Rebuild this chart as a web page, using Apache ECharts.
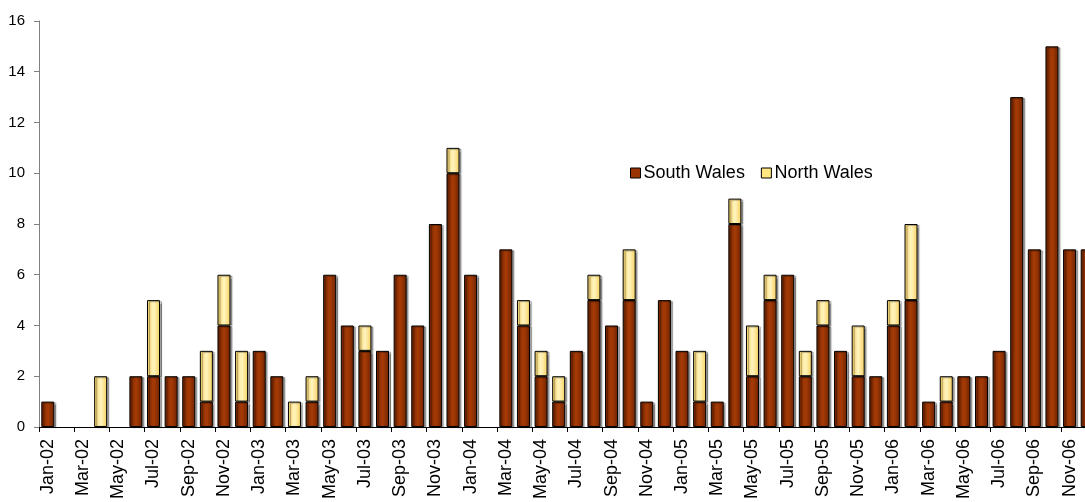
<!DOCTYPE html>
<html>
<head>
<meta charset="utf-8">
<script src="https://cdn.jsdelivr.net/npm/echarts@6/dist/echarts.min.js"></script>
<style>
  html, body { margin: 0; padding: 0; background: #fff; overflow: hidden; }
  /* the plot runs slightly past the right edge of the window, so the last month is cut */
  #chart { width: 1096px; height: 502px; }
</style>
</head>
<body>
<div id="chart"></div>
<script>
// Monthly counts, Jan 2002 – Dec 2006
const months = [
  'Jan-02','Feb-02','Mar-02','Apr-02','May-02','Jun-02','Jul-02','Aug-02','Sep-02','Oct-02','Nov-02','Dec-02',
  'Jan-03','Feb-03','Mar-03','Apr-03','May-03','Jun-03','Jul-03','Aug-03','Sep-03','Oct-03','Nov-03','Dec-03',
  'Jan-04','Feb-04','Mar-04','Apr-04','May-04','Jun-04','Jul-04','Aug-04','Sep-04','Oct-04','Nov-04','Dec-04',
  'Jan-05','Feb-05','Mar-05','Apr-05','May-05','Jun-05','Jul-05','Aug-05','Sep-05','Oct-05','Nov-05','Dec-05',
  'Jan-06','Feb-06','Mar-06','Apr-06','May-06','Jun-06','Jul-06','Aug-06','Sep-06','Oct-06','Nov-06','Dec-06'
];

const southWales = [
  1, 0, 0, 0, 0, 2, 2, 2, 2, 1, 4, 1,
  3, 2, 0, 1, 6, 4, 3, 3, 6, 4, 8, 10,
  6, 0, 7, 4, 2, 1, 3, 5, 4, 5, 1, 5,
  3, 1, 1, 8, 2, 5, 6, 2, 4, 3, 2, 2,
  4, 5, 1, 1, 2, 2, 3, 13, 7, 15, 7, 7
];

const northWales = [
  0, 0, 0, 2, 0, 0, 3, 0, 0, 2, 2, 2,
  0, 0, 1, 1, 0, 0, 1, 0, 0, 0, 0, 1,
  0, 0, 0, 1, 1, 1, 0, 1, 0, 2, 0, 0,
  0, 2, 0, 1, 2, 1, 0, 1, 1, 0, 2, 0,
  1, 3, 0, 1, 0, 0, 0, 0, 0, 0, 0, 0
];

const yTicks = { min: 0, max: 16, step: 2 };

const FONT = '"Liberation Sans", Arial, sans-serif';

function barFill(edge, mid) {
  return new echarts.graphic.LinearGradient(0, 0, 1, 0, [
    { offset: 0, color: edge },
    { offset: 0.45, color: mid },
    { offset: 0.55, color: mid },
    { offset: 1, color: edge }
  ]);
}

// empty months leave no segment at all
const asBars = arr => arr.map(v => (v === 0 ? null : v));

const barStyle = (edge, mid) => ({
  color: barFill(edge, mid),
  borderColor: '#000',
  borderWidth: 1,
  shadowColor: 'rgba(0,0,0,0.35)',
  shadowBlur: 1,
  shadowOffsetX: 2,
  shadowOffsetY: 1
});

const chart = echarts.init(document.getElementById('chart'), null, { renderer: 'canvas' });

chart.setOption({
  animation: false,
  backgroundColor: '#fff',
  textStyle: { fontFamily: FONT },
  grid: { left: 39, right: 0, top: 21, bottom: 74, containLabel: false },
  legend: {
    left: 625,
    top: 159,
    itemWidth: 10,
    itemHeight: 10,
    itemGap: 16,
    icon: 'rect',
    textStyle: { fontFamily: FONT, fontSize: 18, color: '#000', padding: [0, 0, 0, -2] },
    data: [
      { name: 'South Wales', itemStyle: { color: '#993300', borderColor: '#000', borderWidth: 1, shadowBlur: 0, shadowOffsetX: 0, shadowOffsetY: 0 } },
      { name: 'North Wales', itemStyle: { color: '#FFE680', borderColor: '#000', borderWidth: 1, shadowBlur: 0, shadowOffsetX: 0, shadowOffsetY: 0 } }
    ]
  },
  xAxis: {
    type: 'category',
    data: months,
    boundaryGap: true,
    axisLine: { show: true, lineStyle: { color: '#000', width: 1 } },
    axisTick: { show: true, interval: 1, length: 5, inside: false, lineStyle: { color: '#000' } },
    axisLabel: {
      interval: 1,
      rotate: 90,
      margin: 12,
      fontFamily: FONT,
      fontSize: 18,
      color: '#000'
    },
    splitLine: { show: false }
  },
  yAxis: {
    type: 'value',
    min: yTicks.min,
    max: yTicks.max,
    interval: yTicks.step,
    axisLine: { show: true, lineStyle: { color: '#808080', width: 1 } },
    axisTick: { show: true, length: 5, inside: false, lineStyle: { color: '#808080' } },
    axisLabel: { margin: 14, fontFamily: FONT, fontSize: 15, color: '#000' },
    splitLine: { show: false }
  },
  series: [
    {
      name: 'South Wales',
      type: 'bar',
      stack: 'total',
      barWidth: 13,
      data: asBars(southWales),
      itemStyle: barStyle('#6e2200', '#a33a06')
    },
    {
      name: 'North Wales',
      type: 'bar',
      stack: 'total',
      barWidth: 13,
      data: asBars(northWales),
      itemStyle: barStyle('#f7cf5c', '#fff2b8')
    }
  ]
});
</script>
</body>
</html>
